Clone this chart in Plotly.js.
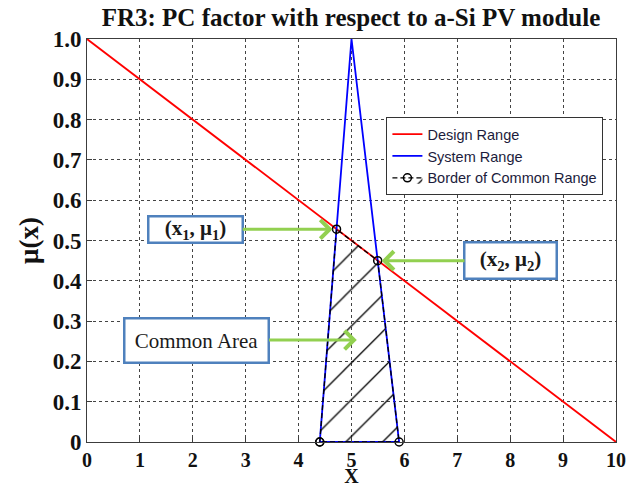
<!DOCTYPE html>
<html>
<head>
<meta charset="utf-8">
<script src="https://cdn.plot.ly/plotly-3.0.1.min.js"></script>
<style>html,body{margin:0;padding:0;background:#fff;}#chart{width:644px;height:487px;}</style>
</head>
<body>
<div id="chart"></div>
<script>
// Design Range (decreasing line)
const designX = [0, 10];
const designY = [1, 0];
// System Range (triangle)
const systemX = [4.4, 5, 5.9, 4.4];
const systemY = [0, 1, 0, 0];
// Border of Common Range
const borderX = [4.4, 4.717, 5.495, 5.9, 4.4];
const borderY = [0, 0.528, 0.45, 0, 0];
// Tick labels
const xTickVals = [0,1,2,3,4,5,6,7,8,9,10];
const xTickText = ['0','1','2','3','4','5','6','7','8','9','10'];
const yTickVals = [0,0.1,0.2,0.3,0.4,0.5,0.6,0.7,0.8,0.9,1.0];
const yTickText = ['0','0.1','0.2','0.3','0.4','0.5','0.6','0.7','0.8','0.9','1.0'];
// Annotation labels and target points
const labelTexts = ['(x<sub>1</sub>, μ<sub>1</sub>)', '(x<sub>2</sub>, μ<sub>2</sub>)', 'Common Area'];
const labelPointX = [4.717, 5.495, 5.1];
const labelPointY = [0.528, 0.45, 0.253];

const serif = 'Liberation Serif, Times New Roman, serif';

const traces = [
  {x: designX, y: designY, mode: 'lines', name: 'Design Range',
   line: {color: '#ff0000', width: 1.8}, cliponaxis: false},
  {x: systemX, y: systemY, mode: 'lines', name: 'System Range',
   line: {color: '#0000ff', width: 1.8}, cliponaxis: false},
  {x: borderX, y: borderY, mode: 'lines+markers', name: 'Border of Common Range',
   line: {color: '#000000', width: 1.3, dash: '5px,3px'},
   marker: {symbol: 'circle-open', size: 8, color: '#000', line: {width: 1.5, color: '#000'}},
   fill: 'toself', fillcolor: 'rgba(0,0,0,0)',
   fillpattern: {shape: '/', fgcolor: '#000', bgcolor: 'rgba(0,0,0,0)', size: 26, solidity: 0.05},
   cliponaxis: false}
];

const boxStyle = {
  showarrow: true, arrowcolor: '#92D050', arrowwidth: 3, arrowhead: 4, arrowsize: 1.2,
  bordercolor: '#4F81BD', borderwidth: 2.5, bgcolor: '#ffffff', xref: 'x', yref: 'y',
  standoff: 4
};

const annotations = [
  Object.assign({}, boxStyle, {text: labelTexts[0], x: labelPointX[0], y: labelPointY[0],
    ax: -141, ay: 0, width: 90, height: 22, borderpad: 1,
    font: {family: serif, size: 21, color: '#1a1a1a', weight: 'bold'}}),
  Object.assign({}, boxStyle, {text: labelTexts[1], x: labelPointX[1], y: labelPointY[1],
    ax: 133, ay: 0, width: 88, height: 32, borderpad: 1,
    font: {family: serif, size: 21, color: '#1a1a1a', weight: 'bold'}}),
  Object.assign({}, boxStyle, {text: labelTexts[2], x: labelPointX[2], y: labelPointY[2],
    ax: -160, ay: 0, width: 140, height: 40, borderpad: 1, standoff: 0,
    font: {family: serif, size: 21, color: '#1a1a1a'}})
];

const axisCommon = {
  showline: true, mirror: true, linecolor: '#3c3c3c', linewidth: 1,
  ticks: 'inside', ticklen: 5, tickcolor: '#3c3c3c',
  showgrid: true, gridcolor: '#444444', gridwidth: 1, griddash: '3px,3px',
  zeroline: false
};

const layout = {
  width: 644, height: 487,
  margin: {l: 87, r: 28, t: 39, b: 45},
  paper_bgcolor: '#fff', plot_bgcolor: '#fff',
  title: {text: 'FR3: PC factor with respect to a-Si PV module',
    font: {family: serif, size: 25, color: '#111', weight: 'bold'},
    x: 0.545, xanchor: 'center', y: 0.965, yanchor: 'middle'},
  xaxis: Object.assign({}, axisCommon, {range: [0, 10], tickvals: xTickVals, ticktext: xTickText,
    tickfont: {family: serif, size: 20, color: '#111', weight: 'bold'},
    title: {text: 'X', font: {family: serif, size: 20, color: '#111', weight: 'bold'}, standoff: 0}}),
  yaxis: Object.assign({}, axisCommon, {range: [0, 1], tickvals: yTickVals, ticktext: yTickText,
    tickfont: {family: serif, size: 23, color: '#111', weight: 'bold'},
    title: {text: 'μ(x)', font: {family: serif, size: 27, color: '#111', weight: 'bold'}, standoff: 6}}),
  legend: {x: 0.566, y: 0.806, xanchor: 'left', yanchor: 'top',
    bgcolor: '#fff', bordercolor: '#333', borderwidth: 1,
    font: {family: 'Liberation Sans, Arial, sans-serif', size: 14.5, color: '#1c1c3c'},
    tracegroupgap: 0},
  annotations: annotations,
  showlegend: true
};

Plotly.newPlot('chart', traces, layout, {displayModeBar: false, staticPlot: true});
</script>
</body>
</html>
